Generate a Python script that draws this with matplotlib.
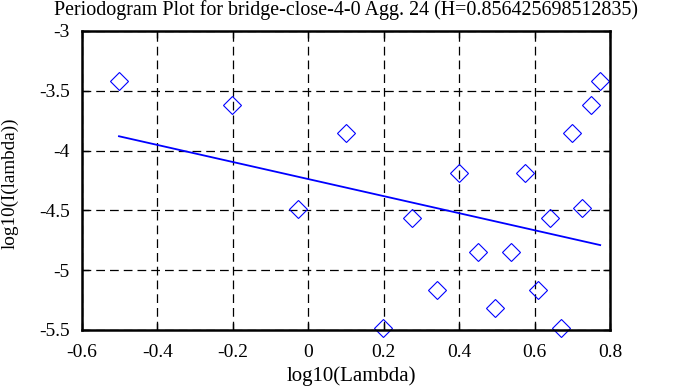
import numpy as np
import matplotlib
matplotlib.use('Agg')
import matplotlib.pyplot as plt

# periodogram points
log_lambda = [-0.502, -0.201, -0.026, 0.0995, 0.197, 0.2745, 0.341, 0.399, 0.4495,
              0.4955, 0.537, 0.574, 0.610, 0.642, 0.671, 0.700, 0.725, 0.750, 0.774]
log_I = [-3.414, -3.62, -4.486, -3.853, -5.486, -4.56, -5.164, -4.19, -4.848,
         -5.317, -4.848, -4.19, -5.164, -4.56, -5.486, -3.853, -4.48, -3.62, -3.42]

# fitted line endpoints
fit_x = [-0.502, 0.774]
fit_y = [-3.88, -4.79]

title = 'Periodogram Plot for bridge-close-4-0 Agg. 24 (H=0.856425698512835)'
xticks = [-0.6, -0.4, -0.2, 0, 0.2, 0.4, 0.6, 0.8]
yticks = [-3, -3.5, -4, -4.5, -5, -5.5]

plt.rcParams['font.family'] = ['Liberation Serif', 'DejaVu Serif']
plt.rcParams['font.size'] = 13.5

fig = plt.figure(figsize=(6.88, 3.87), dpi=100)
ax = fig.add_axes([82/688, 1-330/387, 528/688, 299/387])

ax.plot(fit_x, fit_y, color='blue', lw=1.3)
ax.plot(log_lambda, log_I, linestyle='none', marker='D', markersize=9.5,
        markerfacecolor='none', markeredgecolor='blue', markeredgewidth=0.8,
        clip_on=False)

ax.set_xlim(-0.6, 0.8)
ax.set_ylim(-5.5, -3)
ax.set_xticks(xticks)
ax.set_xticklabels([f'{t:g}' for t in xticks])
ax.set_yticks(yticks)
ax.set_yticklabels([f'{t:g}' for t in yticks])
ax.grid(True, color='black', linestyle=(0, (7, 4)), linewidth=0.9)
ax.tick_params(direction='in', length=5, width=1, top=True, right=True,
               labelsize=14)
ax.tick_params(axis='x', pad=10)
ax.tick_params(axis='y', pad=9)
for s in ax.spines.values():
    s.set_linewidth(1.8)

fig.text(346/688, 1-10/387, title, fontsize=14.4, ha='center', va='center')
fig.text(351/688, 1-376/387, 'log10(Lambda)', fontsize=15, ha='center', va='center')
fig.text(10/688, 1-183/387, 'log10(I(lambda))', fontsize=13.8, ha='center',
         va='center', rotation=90)

plt.savefig('out.png', dpi=100)
